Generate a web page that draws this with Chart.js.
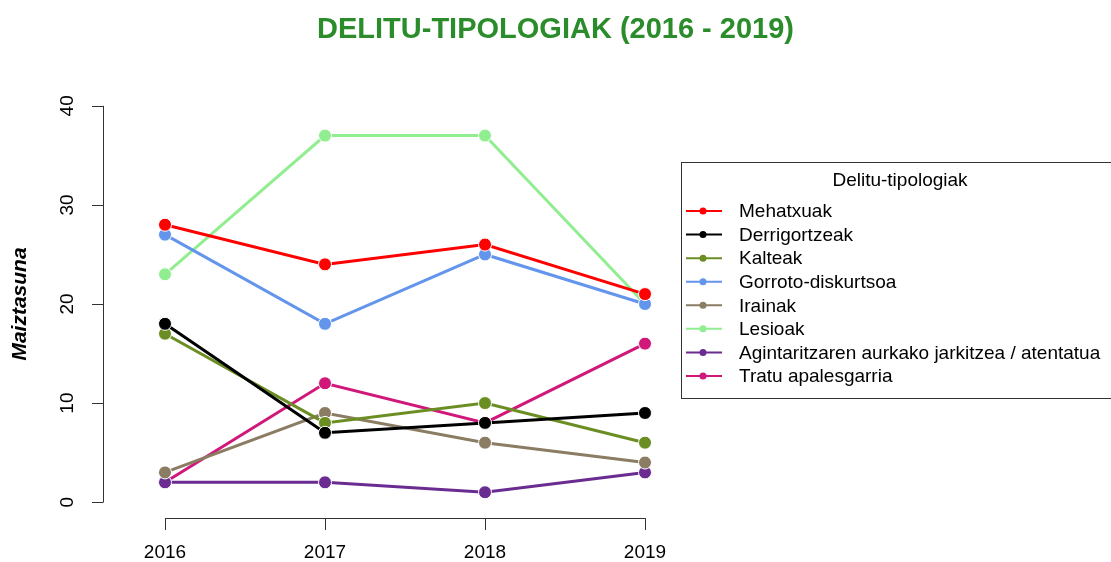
<!DOCTYPE html>
<html>
<head>
<meta charset="utf-8">
<script src="https://cdn.jsdelivr.net/npm/chart.js@4"></script>
<style>
  html, body { margin: 0; padding: 0; background: #fff; }
  #wrap { width: 1111px; height: 562px; position: relative; }
</style>
</head>
<body>
<div id="wrap"><canvas id="myChart" width="1111" height="562"></canvas></div>
<script>
const years = [2016, 2017, 2018, 2019];
const yTicks = [0, 10, 20, 30, 40];

const mehatxuak = [28, 24, 26, 21];
const derrigortzeak = [18, 7, 8, 9];
const kalteak = [17, 8, 10, 6];
const gorroto = [27, 18, 25, 20];
const irainak = [3, 9, 6, 4];
const lesioak = [23, 37, 37, 20];
const agintaritza = [2, 2, 1, 3];
const tratu = [2, 12, 8, 16];

const seriesNames = ['Mehatxuak', 'Derrigortzeak', 'Kalteak', 'Gorroto-diskurtsoa',
    'Irainak', 'Lesioak', 'Agintaritzaren aurkako jarkitzea / atentatua', 'Tratu apalesgarria'];
const seriesValues = [mehatxuak, derrigortzeak, kalteak, gorroto, irainak, lesioak, agintaritza, tratu];
const seriesColors = ['#ff0000', '#000000', '#6b8e23', '#6495ed', '#8b7d63', '#90ee90', '#6a2c91', '#d0187a'];

const font = '"Liberation Sans", Arial, sans-serif';

// R-style axes, title and legend drawn from the chart's own scales
const rStyle = {
    id: 'rStyle',
    afterDraw(chart) {
        const c = chart.ctx;
        const xs = chart.scales.x, ys = chart.scales.y;
        c.save();
        c.strokeStyle = '#333';
        c.fillStyle = '#000';
        c.lineWidth = 1;

        // y axis
        const ax = chart.chartArea.left;
        c.beginPath();
        c.moveTo(ax + 0.5, ys.getPixelForValue(yTicks[0]));
        c.lineTo(ax + 0.5, ys.getPixelForValue(yTicks[yTicks.length - 1]));
        yTicks.forEach(t => {
            const py = Math.round(ys.getPixelForValue(t)) + 0.5;
            c.moveTo(ax + 0.5, py);
            c.lineTo(ax - 11, py);
        });
        c.stroke();
        c.font = '19px ' + font;
        c.textAlign = 'center';
        c.textBaseline = 'middle';
        yTicks.forEach(t => {
            c.save();
            c.translate(ax - 35, ys.getPixelForValue(t));
            c.rotate(-Math.PI / 2);
            c.fillText(String(t), 0, 0);
            c.restore();
        });

        // x axis
        const ay = chart.chartArea.bottom;
        c.beginPath();
        c.moveTo(xs.getPixelForValue(years[0]), ay + 0.5);
        c.lineTo(xs.getPixelForValue(years[years.length - 1]), ay + 0.5);
        years.forEach(yr => {
            const px = Math.round(xs.getPixelForValue(yr)) + 0.5;
            c.moveTo(px, ay);
            c.lineTo(px, ay + 12);
        });
        c.stroke();
        years.forEach(yr => c.fillText(String(yr), xs.getPixelForValue(yr), ay + 35));

        // y axis title
        c.save();
        c.font = 'italic bold 21px ' + font;
        c.translate(20, (ys.getPixelForValue(yTicks[0]) + ys.getPixelForValue(yTicks[yTicks.length - 1])) / 2);
        c.rotate(-Math.PI / 2);
        c.fillText('Maiztasuna', 0, 0);
        c.restore();

        // main title
        c.font = 'bold 29px ' + font;
        c.fillStyle = '#2a8c2a';
        c.fillText('DELITU-TIPOLOGIAK (2016 - 2019)', chart.width / 2, 30);

        // legend
        const lx = 681, ly = 162, lw = 438, lh = 236;
        c.strokeStyle = '#333';
        c.strokeRect(lx + 0.5, ly + 0.5, lw, lh);
        c.fillStyle = '#000';
        c.font = '19px ' + font;
        c.fillText('Delitu-tipologiak', lx + lw / 2, ly + 19);
        c.textAlign = 'left';
        chart.data.datasets.forEach((ds, i) => {
            const rowY = ly + 49 + i * 23.57;
            c.strokeStyle = ds.borderColor;
            c.lineWidth = 2;
            c.beginPath();
            c.moveTo(lx + 5, rowY);
            c.lineTo(lx + 41, rowY);
            c.stroke();
            c.fillStyle = ds.borderColor;
            c.beginPath();
            c.arc(lx + 22, rowY, 3.5, 0, Math.PI * 2);
            c.fill();
            c.fillStyle = '#000';
            c.fillText(ds.label, lx + 58, rowY + 1);
        });
        c.restore();
    }
};

const ctx = document.getElementById('myChart').getContext('2d');
const myChart = new Chart(ctx, {
    type: 'line',
    data: {
        datasets: seriesNames.map((name, i) => ({
            label: name,
            data: seriesValues[i].map((v, j) => ({ x: years[j], y: v })),
            borderColor: seriesColors[i],
            backgroundColor: seriesColors[i],
            borderWidth: 3,
            pointRadius: 6.5,
            pointBorderColor: '#ffffff',
            pointBorderWidth: 1,
            fill: false,
            tension: 0
        }))
    },
    options: {
        responsive: false,
        animation: false,
        layout: { padding: { left: 103, top: 90, right: 446, bottom: 44 } },
        plugins: { legend: { display: false }, title: { display: false }, tooltip: { enabled: false } },
        scales: {
            x: { type: 'linear', min: 2015.6125, max: 2019.125, display: false },
            y: { type: 'linear', min: -1.6, max: 41.6, display: false }
        }
    },
    plugins: [rStyle]
});
</script>
</body>
</html>
